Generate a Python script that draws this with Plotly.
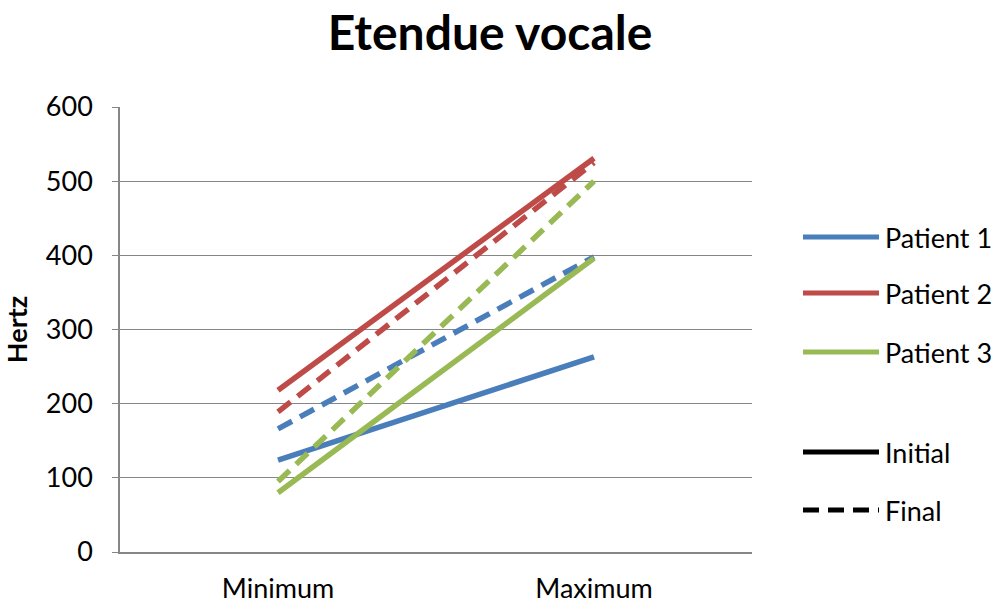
import plotly.graph_objects as go

categories = ["Minimum", "Maximum"]
patients = ["Patient 1", "Patient 2", "Patient 3"]
colors = ["#4A7EBB", "#BE4B48", "#98B954"]
initial_values = [[124, 263], [218, 531], [80, 396]]
final_values = [[166, 398], [189, 525], [95, 500]]
y_ticks = [0, 100, 200, 300, 400, 500, 600]

FONT = "Lato"
GRAY = "#868686"
W, H = 996, 609

fig = go.Figure()
for name, col, ini, fin in zip(patients, colors, initial_values, final_values):
    fig.add_trace(go.Scatter(x=categories, y=ini, mode="lines", name=name + " Initial",
                             line=dict(color=col, width=5.5), showlegend=False))
    fig.add_trace(go.Scatter(x=categories, y=fin, mode="lines", name=name + " Final",
                             line=dict(color=col, width=5.5, dash="16px,9px"), showlegend=False))

# target plot box in page pixels
L, R, T, B = 120, 752, 107, 552
def px(x):
    return (x - L) / (R - L)
def py(y):
    return (B - y) / (B - T)

legend_items = [(patients[0], colors[0], "solid", 237), (patients[1], colors[1], "solid", 293),
                (patients[2], colors[2], "solid", 352), ("Initial", "black", "solid", 452),
                ("Final", "black", "16px,9px", 510)]
for label, col, dash, yy in legend_items:
    fig.add_shape(type="line", xref="paper", yref="paper", x0=px(803), x1=px(879), y0=py(yy), y1=py(yy),
                  line=dict(color=col, width=5, dash=dash))
    fig.add_annotation(text=label, xref="paper", yref="paper", x=px(883), y=py(yy), xanchor="left",
                       yanchor="middle", showarrow=False, font=dict(family=FONT, size=27, color="black"))

fig.update_layout(
    width=W, height=H,
    margin=dict(l=L, r=W - R, t=T, b=H - B, pad=0, autoexpand=False),
    paper_bgcolor="white", plot_bgcolor="white",
    title=dict(text="<b>Etendue vocale</b>", x=490 / W, xanchor="center",
               y=1 - 33 / H, yanchor="middle", automargin=False,
               font=dict(family=FONT, size=48, color="black")),
    showlegend=False,
    font=dict(family=FONT, color="black"),
)
fig.update_xaxes(type="category", range=[-0.5, 1.5], showgrid=False, showline=True, linecolor=GRAY,
                 linewidth=1.5, ticks="", tickfont=dict(size=27, family=FONT, color="black"),
                 ticklabelstandoff=12, automargin=False)
fig.update_yaxes(range=[0, 600], tickvals=y_ticks, showgrid=True, gridcolor=GRAY, gridwidth=1.2,
                 showline=True, linecolor=GRAY, linewidth=1.5, ticks="outside", ticklen=6, tickcolor=GRAY,
                 tickfont=dict(size=27, family=FONT, color="black"), ticklabelstandoff=14,
                 zeroline=False, automargin=False,
                 title=dict(text="<b>Hertz</b>", font=dict(size=27, family=FONT, color="black"), standoff=16))

fig.write_html("out.html", config={"displayModeBar": False},
               post_script="document.body.style.margin='0';document.body.style.overflow='hidden';")
